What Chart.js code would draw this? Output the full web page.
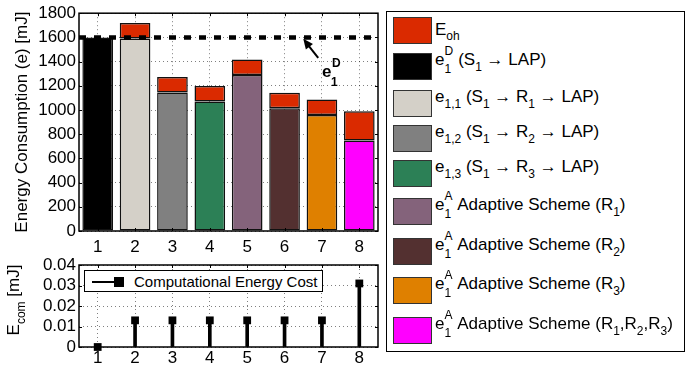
<!DOCTYPE html>
<html>
<head>
<meta charset="utf-8">
<script src="https://cdn.jsdelivr.net/npm/chart.js@4.4.1/dist/chart.umd.min.js"></script>
<style>
  body { margin: 0; background: #fff; font-family: 'Liberation Sans', Arial, sans-serif; color: #000; }
  #wrap { position: relative; width: 697px; height: 375px; overflow: hidden; }
  canvas { position: absolute; left: 0; }
  #topChart { top: 0; }
  #botChart { top: 250px; }
  #ecomTitle {
    position: absolute; left: 4px; top: 360px; width: 120px; height: 20px;
    line-height: 20px; font-size: 17px; text-align: center; white-space: nowrap;
    transform-origin: 0 0; transform: rotate(-90deg);
  }
  sub { font-size: 12px; vertical-align: -6px; line-height: 0; }
  sub.lo { vertical-align: -5px; }
  #stemLegend {
    position: absolute; left: 84px; top: 270px; width: 237px; height: 20px;
    border: 1.5px solid #000; background: #fff;
  }
  #stemLegend .ln { position: absolute; left: 7px; top: 9.5px; width: 26px; height: 2px; background: #000; }
  #stemLegend .mk { position: absolute; left: 29px; top: 5.5px; width: 10px; height: 10px; background: #000; }
  #stemLegend .tx { position: absolute; left: 49px; top: 2px; font-size: 15px; line-height: 17px; white-space: nowrap; }
  #legend {
    position: absolute; left: 386px; top: 11px; width: 297px; height: 339px;
    border: 1.5px solid #000; background: #fff;
  }
  .sw { position: absolute; left: 6px; width: 37px; height: 25px; border: 1px solid #333; }
  .lbl { position: absolute; left: 48px; font-size: 17px; line-height: 20px; white-space: nowrap; }
  .st { display: inline-block; position: relative; width: 9px; height: 0; }
  .st .sp { position: absolute; left: 0; bottom: 7.5px; font-size: 12px; line-height: 12px; }
  .st .sb { position: absolute; left: 0; top: -1.5px; font-size: 12px; line-height: 12px; }
</style>
</head>
<body>
<div id="wrap">
  <canvas id="topChart" width="385" height="252"></canvas>
  <canvas id="botChart" width="385" height="125"></canvas>
  <div id="ecomTitle">E<sub>com</sub> [mJ]</div>
  <div id="stemLegend"><div class="ln"></div><div class="mk"></div><div class="tx">Computational Energy Cost</div></div>
  <div id="legend"></div>
</div>
<script>
const categories = ['1', '2', '3', '4', '5', '6', '7', '8'];
const baseEnergy = [1600, 1590, 1145, 1070, 1290, 1015, 958, 748];
const overheadEnergy = [0, 130, 128, 128, 127, 128, 128, 242];
const computeEnergy = [0, 0.013, 0.013, 0.013, 0.013, 0.013, 0.013, 0.031];
const directEnergy = 1600;

const ohColor = '#da2a00';
const barColors = ['#000000', '#d4d0c8', '#808080', '#2c8056', '#84637b', '#533030', '#df8000', '#ff00ff'];

const scr = (up, down) => '<span class="st"><span class="sp">' + up + '</span><span class="sb">' + down + '</span></span>';
const legendLabels = [
  'E<sub class="lo">oh</sub>',
  'e' + scr('D', '1') + ' (S<sub>1</sub> \u2192 LAP)',
  'e<sub>1,1</sub> (S<sub>1</sub> \u2192 R<sub>1</sub> \u2192 LAP)',
  'e<sub>1,2</sub> (S<sub>1</sub> \u2192 R<sub>2</sub> \u2192 LAP)',
  'e<sub>1,3</sub> (S<sub>1</sub> \u2192 R<sub>3</sub> \u2192 LAP)',
  'e' + scr('A', '1') + ' Adaptive Scheme (R<sub>1</sub>)',
  'e' + scr('A', '1') + ' Adaptive Scheme (R<sub>2</sub>)',
  'e' + scr('A', '1') + ' Adaptive Scheme (R<sub>3</sub>)',
  'e' + scr('A', '1') + ' Adaptive Scheme (R<sub>1</sub>,R<sub>2</sub>,R<sub>3</sub>)'
];
const legendColors = [ohColor].concat(barColors);

// legend rows (swatch top / text baseline, page px)
const swatchTops = [17, 53, 90, 125, 160, 198, 238, 277, 317];
const legend = document.getElementById('legend');
legendLabels.forEach((txt, i) => {
  const top = swatchTops[i] - 12.5;
  const base = i === 0 ? swatchTops[i] + 19 : swatchTops[i] + 13;
  legend.insertAdjacentHTML('beforeend',
    '<div class="sw" style="top:' + top + 'px;background:' + legendColors[i] + '"></div>' +
    '<div class="lbl" style="top:' + (base - 12.5 - 15.9) + 'px">' + txt + '</div>');
});

Chart.defaults.font.family = "'Liberation Sans', Arial, sans-serif";
Chart.defaults.font.size = 17;
Chart.defaults.color = '#000';

// box around the axes with inward ticks, like the original figure
const framePlugin = {
  id: 'frame',
  afterDatasetsDraw(chart) {
    const {ctx, chartArea: a, scales} = chart;
    ctx.save();
    ctx.strokeStyle = '#000';
    ctx.lineWidth = 1;
    ctx.beginPath();
    scales.x.ticks.forEach((t, i) => {
      const px = Math.round(scales.x.getPixelForTick(i)) + 0.5;
      ctx.moveTo(px, a.top); ctx.lineTo(px, a.top + 3);
      ctx.moveTo(px, a.bottom); ctx.lineTo(px, a.bottom - 3);
    });
    scales.y.ticks.forEach((t, i) => {
      const py = Math.round(scales.y.getPixelForTick(i)) + 0.5;
      ctx.moveTo(a.left, py); ctx.lineTo(a.left + 3, py);
      ctx.moveTo(a.right, py); ctx.lineTo(a.right - 3, py);
    });
    ctx.stroke();
    ctx.lineWidth = 1.5;
    ctx.strokeRect(a.left, a.top, a.right - a.left, a.bottom - a.top);
    ctx.restore();
  }
};

// dashed e1^D reference line + arrow label
const refLinePlugin = {
  id: 'refLine',
  afterDatasetsDraw(chart) {
    const {ctx, chartArea: a, scales: {x, y}} = chart;
    const py = y.getPixelForValue(directEnergy);
    ctx.save();
    ctx.strokeStyle = '#000';
    ctx.fillStyle = '#000';
    ctx.lineWidth = 4.5;
    ctx.setLineDash([7, 8]);
    ctx.beginPath();
    ctx.moveTo(a.left, py);
    ctx.lineTo(a.right, py);
    ctx.stroke();
    ctx.setLineDash([]);

    const x0 = x.getPixelForValue(5.9), y0 = y.getPixelForValue(1430);
    const x1 = x.getPixelForValue(5.5), y1 = y.getPixelForValue(1588);
    const ang = Math.atan2(y1 - y0, x1 - x0);
    ctx.lineWidth = 2;
    ctx.beginPath();
    ctx.moveTo(x0, y0);
    ctx.lineTo(x1 - 6 * Math.cos(ang), y1 - 6 * Math.sin(ang));
    ctx.stroke();
    ctx.beginPath();
    ctx.moveTo(x1, y1);
    ctx.lineTo(x1 - 10 * Math.cos(ang) + 4.5 * Math.sin(ang), y1 - 10 * Math.sin(ang) - 4.5 * Math.cos(ang));
    ctx.lineTo(x1 - 10 * Math.cos(ang) - 4.5 * Math.sin(ang), y1 - 10 * Math.sin(ang) + 4.5 * Math.cos(ang));
    ctx.closePath();
    ctx.fill();

    const lx = x.getPixelForValue(6), ly = y.getPixelForValue(1275);
    ctx.textBaseline = 'alphabetic';
    ctx.font = "bold 17px 'Liberation Sans', Arial, sans-serif";
    ctx.fillText('e', lx, ly);
    ctx.font = "bold 12px 'Liberation Sans', Arial, sans-serif";
    ctx.fillText('D', lx + 10, ly - 10);
    ctx.fillText('1', lx + 9, ly + 9);
    ctx.restore();
  }
};

const gridOpts = {color: 'rgba(0,0,0,0.5)', lineWidth: 1, drawTicks: false, offset: false};
const borderOpts = {display: false, dash: [1, 3]};

new Chart(document.getElementById('topChart'), {
  type: 'bar',
  data: {
    labels: categories,
    datasets: [{
      label: 'Energy',
      data: baseEnergy,
      backgroundColor: barColors,
      borderColor: '#111',
      borderWidth: 1.5,
      borderSkipped: false,
      barPercentage: 0.82,
      categoryPercentage: 1
    }, {
      label: 'E_oh',
      data: overheadEnergy,
      backgroundColor: ohColor,
      borderColor: '#111',
      borderWidth: 1.5,
      borderSkipped: false,
      barPercentage: 0.82,
      categoryPercentage: 1
    }]
  },
  options: {
    responsive: false,
    animation: false,
    devicePixelRatio: 1,
    layout: {padding: {top: 13, right: 7, left: 0, bottom: 0}},
    plugins: {legend: {display: false}, tooltip: {enabled: false}},
    scales: {
      x: {
        stacked: true,
        grid: gridOpts,
        border: borderOpts,
        ticks: {padding: 6},
        afterFit(s) { s.height = 21; }
      },
      y: {
        stacked: true,
        min: 0,
        max: 1800,
        ticks: {stepSize: 200, padding: 3, autoSkip: false, callback: v => String(v)},
        grid: gridOpts,
        border: borderOpts,
        title: {display: true, text: 'Energy Consumption (e) [mJ]', padding: {top: 12, bottom: 0}},
        afterFit(s) { s.width = 79; }
      }
    }
  },
  plugins: [refLinePlugin, framePlugin]
});

new Chart(document.getElementById('botChart'), {
  type: 'bar',
  data: {
    labels: categories,
    datasets: [{
      type: 'line',
      label: 'Computational Energy Cost',
      data: computeEnergy,
      showLine: false,
      pointStyle: 'rect',
      pointRadius: 5.5,
      pointBackgroundColor: '#000',
      pointBorderWidth: 0,
      clip: false
    }, {
      label: 'stem',
      data: computeEnergy,
      backgroundColor: '#000',
      barThickness: 3
    }]
  },
  options: {
    responsive: false,
    animation: false,
    devicePixelRatio: 1,
    layout: {padding: {top: 15, right: 7, left: 0, bottom: 0}},
    plugins: {legend: {display: false}, tooltip: {enabled: false}},
    scales: {
      x: {
        grid: gridOpts,
        border: borderOpts,
        ticks: {padding: 1},
        afterFit(s) { s.height = 28; }
      },
      y: {
        min: 0,
        max: 0.04,
        ticks: {stepSize: 0.01, padding: 3, autoSkip: false, callback: v => (v === 0 ? '0' : v.toFixed(2))},
        grid: gridOpts,
        border: borderOpts,
        afterFit(s) { s.width = 79; }
      }
    }
  },
  plugins: [framePlugin]
});
</script>
</body>
</html>
